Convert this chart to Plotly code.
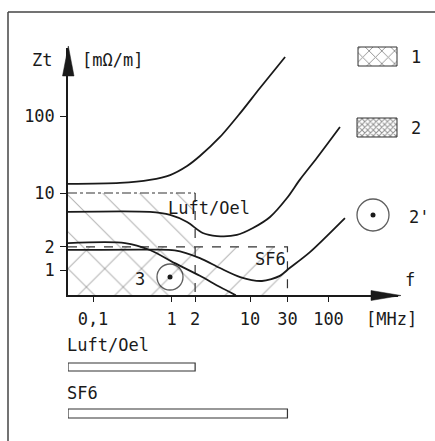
import plotly.graph_objects as go

# ---------------- data ----------------
FREQ_TICKS = [0.1, 1, 2, 10, 30, 100]
FREQ_TICK_TEXT = ["0,1", "1", "2", "10", "30", "100"]
ZT_TICKS = [1, 2, 10, 100]
ZT_TICK_TEXT = ["1", "2", "10", "100"]

# curve 1 (single braid)
curve1_f = [0.048, 0.22, 0.53, 0.96, 1.58, 2.3, 4.15, 7.5, 13.4, 28]
curve1_z = [13.1, 13.5, 14.8, 17.1, 22.4, 30.2, 53.4, 109, 231, 584]
# curve 2 (dense braid)
curve2_f = [0.048, 0.53, 0.96, 1.58, 2.5, 3.8, 6.8, 10.9, 18, 29.6, 43, 71, 140]
curve2_z = [5.67, 5.67, 5.18, 4.2, 3.02, 2.76, 2.85, 3.51, 4.88, 8.6, 14.8, 28.5, 72]
# curve 2'
curve2p_f = [0.048, 0.53, 1.1, 2.3, 4.15, 7.5, 14.2, 24, 32, 58, 162]
curve2p_z = [1.82, 1.84, 1.80, 1.43, 1.06, 0.81, 0.72, 0.84, 1.06, 1.71, 4.73]
# curve 3
curve3_f = [0.048, 0.256, 0.53, 1.1, 2.3, 4.15, 6.6]
curve3_z = [2.24, 2.24, 1.82, 1.23, 0.84, 0.60, 0.47]

# limits of the insulation media
LUFT_OEL_F_MAX = 2
LUFT_OEL_Z_MAX = 10
SF6_F_MAX = 30
SF6_Z_MAX = 2

# axis ranges (log10)
F_RANGE = [-1.3185, 2.8854]
Z_RANGE = [-0.3247, 2.8831]
F_MIN = 10 ** F_RANGE[0]
Z_MIN = 10 ** Z_RANGE[0]

W, H = 435, 441
FONT = "DejaVu Sans Mono"
INK = "#1a1a1a"


def px(x):
    return x / W


def py(y):
    return 1 - y / H


fig = go.Figure()

# hatched regions
fig.add_trace(go.Scatter(
    x=[F_MIN, LUFT_OEL_F_MAX, LUFT_OEL_F_MAX, F_MIN, F_MIN],
    y=[Z_MIN, Z_MIN, LUFT_OEL_Z_MAX, LUFT_OEL_Z_MAX, Z_MIN],
    fill="toself", mode="none", fillcolor="rgba(0,0,0,0)",
    fillpattern=dict(shape="\\", size=26, solidity=0.04, fgcolor="#666",
                     bgcolor="rgba(0,0,0,0)"),
    hoverinfo="skip", showlegend=False))
fig.add_trace(go.Scatter(
    x=[F_MIN, SF6_F_MAX, SF6_F_MAX, F_MIN, F_MIN],
    y=[Z_MIN, Z_MIN, SF6_Z_MAX, SF6_Z_MAX, Z_MIN],
    fill="toself", mode="none", fillcolor="rgba(0,0,0,0)",
    fillpattern=dict(shape="/", size=26, solidity=0.04, fgcolor="#666",
                     bgcolor="rgba(0,0,0,0)"),
    hoverinfo="skip", showlegend=False))

# limit lines
fig.add_trace(go.Scatter(x=[F_MIN, LUFT_OEL_F_MAX], y=[LUFT_OEL_Z_MAX, LUFT_OEL_Z_MAX],
                         mode="lines", line=dict(color="#333", width=1.2, dash="dashdot"),
                         showlegend=False, hoverinfo="skip"))
fig.add_trace(go.Scatter(x=[LUFT_OEL_F_MAX, LUFT_OEL_F_MAX], y=[LUFT_OEL_Z_MAX, Z_MIN],
                         mode="lines", line=dict(color="#333", width=1.2, dash="dash"),
                         showlegend=False, hoverinfo="skip"))
fig.add_trace(go.Scatter(x=[F_MIN, SF6_F_MAX, SF6_F_MAX], y=[SF6_Z_MAX, SF6_Z_MAX, Z_MIN],
                         mode="lines", line=dict(color="#333", width=1.2, dash="dash"),
                         showlegend=False, hoverinfo="skip"))

# curves
for fx, zy in [(curve1_f, curve1_z), (curve2_f, curve2_z),
               (curve2p_f, curve2p_z), (curve3_f, curve3_z)]:
    fig.add_trace(go.Scatter(x=fx, y=zy, mode="lines",
                             line=dict(color=INK, width=1.8, shape="spline", smoothing=0.8),
                             showlegend=False, hoverinfo="skip"))

# bottom range bars (share the frequency axis)
bars = [(LUFT_OEL_F_MAX, py(371), py(363)), (SF6_F_MAX, py(418), py(409))]
for fmax, y0, y1 in bars:
    fig.add_trace(go.Scatter(x=[F_MIN, fmax, fmax, F_MIN, F_MIN], y=[y0, y0, y1, y1, y0],
                             xaxis="x", yaxis="y2", mode="lines", fill="toself",
                             fillcolor="white", line=dict(color="#333", width=1.2),
                             showlegend=False, hoverinfo="skip"))

# legend symbols (overlay axes in page fractions)
fig.add_trace(go.Scatter(x=[px(358), px(397), px(397), px(358), px(358)],
                         y=[py(66), py(66), py(47), py(47), py(66)],
                         xaxis="x4", yaxis="y4", mode="lines", fill="toself",
                         fillcolor="white", line=dict(color="#333", width=1),
                         fillpattern=dict(shape="x", size=9, solidity=0.2, fgcolor="#222",
                                          bgcolor="white"),
                         showlegend=False, hoverinfo="skip"))
fig.add_trace(go.Scatter(x=[px(357), px(397), px(397), px(357), px(357)],
                         y=[py(137), py(137), py(118), py(118), py(137)],
                         xaxis="x4", yaxis="y4", mode="lines", fill="toself",
                         fillcolor="white", line=dict(color="#333", width=1),
                         fillpattern=dict(shape="x", size=4, solidity=0.45, fgcolor="#222",
                                          bgcolor="white"),
                         showlegend=False, hoverinfo="skip"))
fig.add_trace(go.Scatter(x=[px(373), px(170)], y=[py(215), py(277)],
                         xaxis="x4", yaxis="y4", mode="markers",
                         marker=dict(symbol="circle-open", size=[32, 26],
                                     line=dict(color=INK, width=1.3), color=INK),
                         showlegend=False, hoverinfo="skip"))
fig.add_trace(go.Scatter(x=[px(373), px(170)], y=[py(215), py(277)],
                         xaxis="x4", yaxis="y4", mode="markers",
                         marker=dict(symbol="circle", size=5, color=INK),
                         showlegend=False, hoverinfo="skip"))

ann = []


def label(text, x, y, xanchor="center", size=17):
    ann.append(dict(text=text, x=px(x), y=py(y), xref="paper", yref="paper",
                    xanchor=xanchor, yanchor="middle", showarrow=False,
                    font=dict(family=FONT, size=size, color=INK)))


label("Zt", 42, 60)
label("[mΩ/m]", 113, 60)
label("f", 410, 280)
label("[MHz]", 391, 319)
label("Luft/Oel", 166, 208, "left")
label("SF6", 253, 259, "left")
label("3", 140, 279)
label("1", 416, 57)
label("2", 416, 128)
label("2'", 419, 217)
label("Luft/Oel", 65, 345, "left")
label("SF6", 65, 393, "left")

shapes = [
    # frame
    dict(type="line", xref="paper", yref="paper", x0=px(8), y0=py(12), x1=1, y1=py(12),
         line=dict(color="#444", width=1.5)),
    dict(type="line", xref="paper", yref="paper", x0=px(8), y0=py(12), x1=px(8), y1=0,
         line=dict(color="#444", width=1.5)),
    # arrow heads
    dict(type="path", xref="paper", yref="paper",
         path=f"M {px(68.3)} {py(46)} L {px(62.5)} {py(76)} L {px(74)} {py(76)} Z",
         fillcolor=INK, line=dict(color=INK, width=0.5)),
    dict(type="path", xref="paper", yref="paper",
         path=f"M {px(401)} {py(295.5)} L {px(371)} {py(290.5)} L {px(371)} {py(300.5)} Z",
         fillcolor=INK, line=dict(color=INK, width=0.5)),
]

axis_font = dict(family=FONT, size=17, color=INK)
fig.update_layout(
    width=W, height=H, margin=dict(l=0, r=0, t=0, b=0),
    paper_bgcolor="white", plot_bgcolor="rgba(0,0,0,0)",
    showlegend=False, annotations=ann, shapes=shapes,
    xaxis=dict(type="log", range=F_RANGE, domain=[px(68), px(398)], anchor="y",
               showgrid=False, zeroline=False, showline=True, linecolor=INK, linewidth=1.5,
               tickmode="array", tickvals=FREQ_TICKS, ticktext=FREQ_TICK_TEXT,
               ticks="outside", ticklen=5, tickwidth=1.2, tickcolor=INK,
               ticklabelstandoff=3, tickfont=axis_font),
    yaxis=dict(type="log", range=Z_RANGE, domain=[py(295), py(48)], anchor="x",
               showgrid=False, zeroline=False, showline=True, linecolor=INK, linewidth=1.5,
               tickmode="array", tickvals=ZT_TICKS, ticktext=ZT_TICK_TEXT,
               ticks="outside", ticklen=6, tickwidth=1.2, tickcolor=INK,
               ticklabelstandoff=2, tickfont=axis_font),
    yaxis2=dict(domain=[0, 1], range=[0, 1], anchor="x", visible=False, fixedrange=True),
    xaxis4=dict(domain=[0, 1], range=[0, 1], anchor="y4", visible=False),
    yaxis4=dict(domain=[0, 1], range=[0, 1], anchor="x4", visible=False),
)

fig.write_html("out.html", config={"displayModeBar": False},
               post_script="document.body.style.margin='0';document.body.style.overflow='hidden';")
